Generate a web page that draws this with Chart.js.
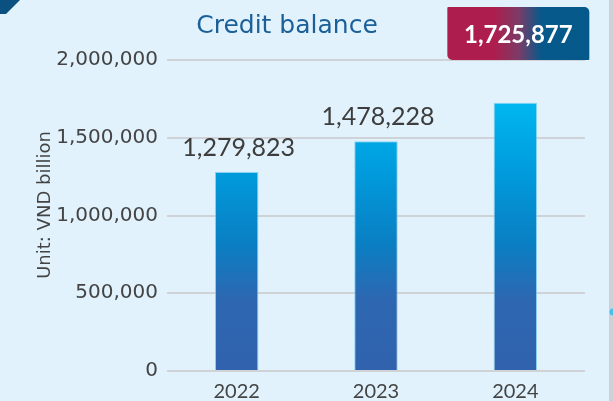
<!DOCTYPE html>
<html><head><meta charset="utf-8">
<script src="https://cdn.jsdelivr.net/npm/chart.js@4"></script>
<style>html,body{margin:0;padding:0;background:#e1f2fc;overflow:hidden}canvas{display:block}</style>
</head><body>
<canvas id="c" width="613" height="401"></canvas>
<script>
const categories = ['2022', '2023', '2024'];
const creditBalance = [1279823, 1478228, 1725877];
const yTickValues = [0, 500000, 1000000, 1500000, 2000000];
const chartTitle = 'Credit balance';
const yAxisTitle = 'Unit: VND billion';
const highlightIndex = 2;

const fmt = v => v.toLocaleString('en-US');

function barGradient(ctx) {
  const chart = ctx.chart; const a = chart.chartArea;
  if (!a) return '#1a7fc4';
  const g = chart.ctx.createLinearGradient(0, a.top, 0, a.bottom);
  g.addColorStop(0, '#00c2f6');
  g.addColorStop(0.135, '#00b7ef');
  g.addColorStop(0.36, '#009bdc');
  g.addColorStop(0.59, '#0a7fc3');
  g.addColorStop(0.77, '#2d67b1');
  g.addColorStop(1, '#3162ad');
  return g;
}

const decor = {
  id: 'decor',
  beforeDraw(chart) {
    const c = chart.ctx, W = chart.width, H = chart.height;
    c.save();
    c.fillStyle = '#e1f2fc';
    c.fillRect(0, 0, W, H);
    c.fillStyle = '#0a5081';
    c.beginPath(); c.moveTo(0, 0); c.lineTo(20, 0); c.lineTo(6, 14); c.lineTo(0, 14); c.closePath(); c.fill();
    c.fillStyle = '#cdd1d7';
    c.fillRect(W - 4, 0, 4, H);
    c.fillStyle = '#45c1ee';
    c.beginPath(); c.arc(W, 312, 3.5, 0, Math.PI * 2); c.fill();
    c.restore();
  },
  afterDatasetsDraw(chart) {
    const c = chart.ctx;
    const meta = chart.getDatasetMeta(0);
    c.save();
    c.font = '25px Lato';
    c.fillStyle = '#3d3d3d';
    c.textAlign = 'center';
    c.textBaseline = 'alphabetic';
    meta.data.forEach((bar, i) => {
      if (i === highlightIndex) return;
      c.fillText(fmt(creditBalance[i]), bar.x + 2, bar.y - 16);
    });
    c.font = '25px "DejaVu Sans"';
    c.fillStyle = '#1a5f98';
    c.fillText(chartTitle, 287, 33);
    c.save();
    c.translate(50, 205);
    c.rotate(-Math.PI / 2);
    c.font = '18px "DejaVu Sans"';
    c.fillStyle = '#444444';
    c.textAlign = 'center';
    c.fillText(yAxisTitle, 0, 0);
    c.restore();
    const hb = meta.data[highlightIndex];
    const cx = hb.x + 3, bw = 142, x0 = cx - bw / 2, y0 = 7, bh = 53;
    const g = c.createLinearGradient(x0, 0, x0 + bw, 0);
    g.addColorStop(0, '#ad1e4e');
    g.addColorStop(0.33, '#ad1e4e');
    g.addColorStop(0.5, '#7d3b67');
    g.addColorStop(0.66, '#06598a');
    g.addColorStop(1, '#05598a');
    c.fillStyle = g;
    c.beginPath();
    c.roundRect(x0, y0, bw, bh, [1, 5, 1, 5]);
    c.fill();
    c.fillStyle = '#ffffff';
    c.font = 'bold 24px Lato';
    c.textAlign = 'center';
    c.fillText(fmt(creditBalance[highlightIndex]), cx, 43);
    c.restore();
  }
};

new Chart(document.getElementById('c'), {
  type: 'bar',
  data: {
    labels: categories,
    datasets: [{
      data: creditBalance,
      backgroundColor: barGradient,
      borderColor: 'rgba(110,200,240,0.75)',
      borderWidth: 1,
      barPercentage: 0.8,
      categoryPercentage: 0.39
    }]
  },
  options: {
    responsive: false,
    animation: false,
    events: [],
    layout: { padding: { top: 60, right: 28, left: 0, bottom: 0 } },
    plugins: { legend: { display: false }, tooltip: { enabled: false }, title: { display: false } },
    scales: {
      x: {
        grid: { display: false, drawTicks: false },
        border: { display: false },
        ticks: { color: '#444444', font: { family: 'Lato', size: 20 }, padding: 9 },
        afterFit(s) { s.height = 30; }
      },
      y: {
        min: 0, max: 2000000,
        afterBuildTicks(s) { s.ticks = yTickValues.map(v => ({ value: v })); },
        grid: { color: '#cfd3d7', lineWidth: 2, drawTicks: false },
        border: { display: false },
        ticks: { color: '#444444', font: { family: 'DejaVu Sans', size: 20 }, padding: 9, callback: v => fmt(v) },
        afterFit(s) { s.width = 167; }
      }
    }
  },
  plugins: [decor]
});
</script>
</body></html>
